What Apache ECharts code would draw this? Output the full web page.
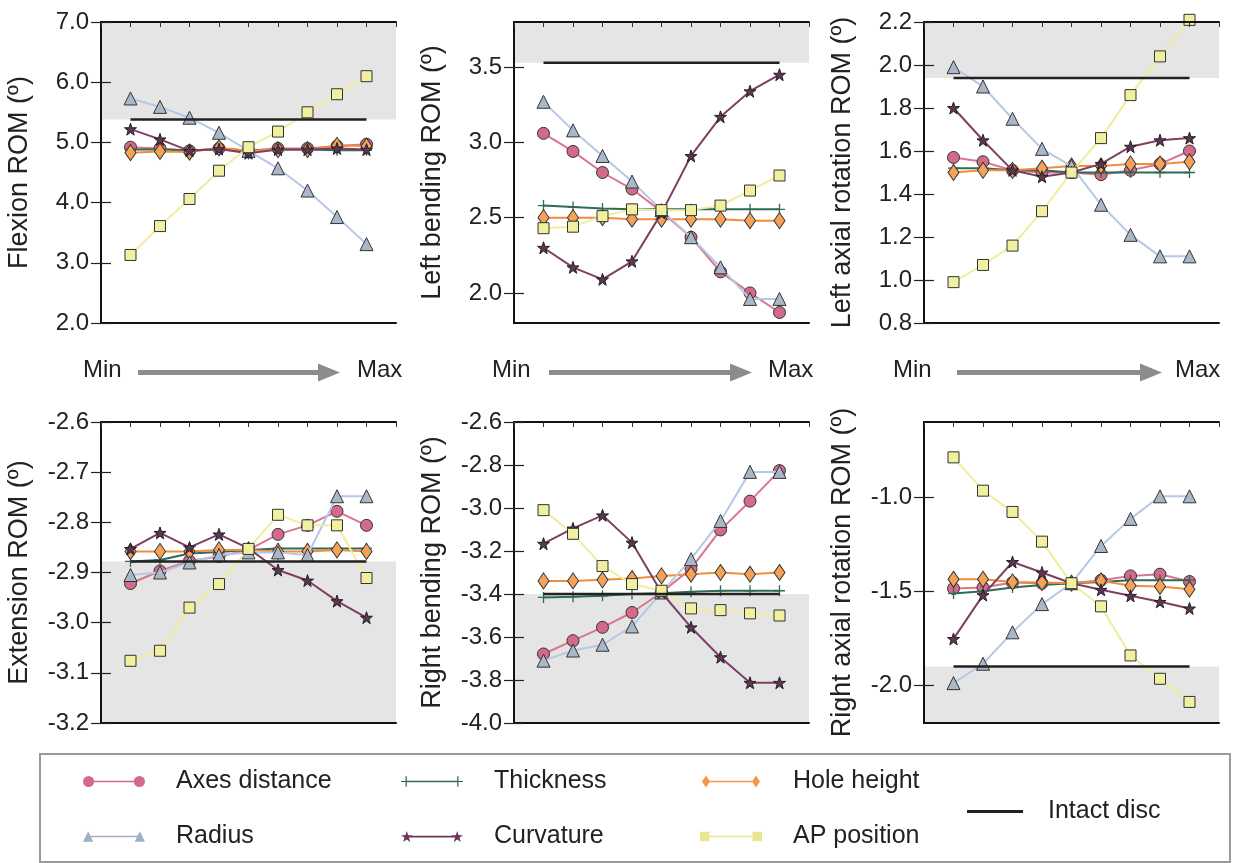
<!DOCTYPE html>
<html><head><meta charset="utf-8">
<script src="https://cdn.jsdelivr.net/npm/echarts@6/dist/echarts.min.js"></script>
<style>html,body{margin:0;padding:0;background:#fff}#c{width:1235px;height:863px}</style>
</head><body><div id="c"></div>
<script>
// ---------- data ----------
const levels = [1, 2, 3, 4, 5, 6, 7, 8, 9];
const seriesNames = ['Axes distance', 'Thickness', 'Hole height', 'Radius', 'Curvature', 'AP position'];
const panelTitles = ['Flexion ROM (º)', 'Left bending ROM (º)', 'Left axial rotation ROM (º)',
  'Extension ROM (º)', 'Right bending ROM (º)', 'Right axial rotation ROM (º)'];

// Flexion
const axes1 = [4.92, 4.90, 4.86, 4.90, 4.86, 4.90, 4.90, 4.94, 4.97];
const thick1 = [4.88, 4.88, 4.87, 4.88, 4.87, 4.88, 4.88, 4.87, 4.87];
const hole1 = [4.83, 4.85, 4.84, 4.91, 4.86, 4.88, 4.88, 4.95, 4.94];
const radius1 = [5.73, 5.59, 5.41, 5.16, 4.86, 4.57, 4.20, 3.76, 3.31];
const curv1 = [5.22, 5.05, 4.86, 4.89, 4.82, 4.88, 4.88, 4.90, 4.88];
const ap1 = [3.13, 3.61, 4.06, 4.53, 4.92, 5.18, 5.50, 5.80, 6.10];
// Left bending
const axes2 = [3.06, 2.94, 2.80, 2.69, 2.54, 2.37, 2.14, 2.00, 1.87];
const thick2 = [2.58, 2.57, 2.56, 2.555, 2.555, 2.555, 2.555, 2.555, 2.555];
const hole2 = [2.50, 2.50, 2.50, 2.49, 2.49, 2.49, 2.49, 2.48, 2.48];
const radius2 = [3.27, 3.08, 2.91, 2.74, 2.55, 2.37, 2.17, 1.96, 1.96];
const curv2 = [2.30, 2.17, 2.09, 2.21, 2.53, 2.91, 3.17, 3.34, 3.45];
const ap2 = [2.43, 2.44, 2.51, 2.555, 2.55, 2.55, 2.58, 2.68, 2.78];
// Left axial rotation
const axes3 = [1.57, 1.55, 1.51, 1.50, 1.50, 1.49, 1.51, 1.54, 1.60];
const thick3 = [1.52, 1.52, 1.51, 1.51, 1.50, 1.50, 1.50, 1.50, 1.50];
const hole3 = [1.50, 1.51, 1.51, 1.52, 1.53, 1.53, 1.54, 1.54, 1.55];
const radius3 = [1.99, 1.90, 1.75, 1.61, 1.53, 1.35, 1.21, 1.11, 1.11];
const curv3 = [1.80, 1.65, 1.51, 1.48, 1.50, 1.54, 1.62, 1.65, 1.66];
const ap3 = [0.99, 1.07, 1.16, 1.32, 1.50, 1.66, 1.86, 2.04, 2.21];
// Extension
const axes4 = [-2.922, -2.897, -2.877, -2.868, -2.855, -2.824, -2.806, -2.778, -2.806];
const thick4 = [-2.878, -2.875, -2.862, -2.859, -2.855, -2.852, -2.852, -2.852, -2.852];
const hole4 = [-2.858, -2.858, -2.858, -2.855, -2.855, -2.858, -2.858, -2.855, -2.858];
const radius4 = [-2.905, -2.900, -2.880, -2.865, -2.860, -2.860, -2.865, -2.748, -2.748];
const curv4 = [-2.853, -2.821, -2.850, -2.824, -2.852, -2.895, -2.916, -2.957, -2.990];
const ap4 = [-3.076, -3.056, -2.970, -2.923, -2.853, -2.785, -2.806, -2.806, -2.911];
// Right bending
const axes5 = [-3.679, -3.617, -3.555, -3.486, -3.393, -3.282, -3.102, -2.968, -2.826];
const thick5 = [-3.416, -3.413, -3.408, -3.400, -3.396, -3.390, -3.385, -3.385, -3.385];
const hole5 = [-3.339, -3.339, -3.334, -3.328, -3.316, -3.308, -3.300, -3.308, -3.300];
const radius5 = [-3.710, -3.663, -3.636, -3.551, -3.393, -3.238, -3.060, -2.832, -2.832];
const curv5 = [-3.166, -3.095, -3.034, -3.161, -3.393, -3.555, -3.694, -3.813, -3.813];
const ap5 = [-3.010, -3.120, -3.270, -3.354, -3.385, -3.467, -3.475, -3.490, -3.500];
// Right axial rotation
const axes6 = [-1.485, -1.480, -1.453, -1.457, -1.457, -1.441, -1.418, -1.409, -1.448];
const thick6 = [-1.511, -1.500, -1.480, -1.466, -1.457, -1.450, -1.441, -1.441, -1.441];
const hole6 = [-1.436, -1.436, -1.450, -1.453, -1.457, -1.444, -1.471, -1.474, -1.489];
const radius6 = [-1.988, -1.885, -1.718, -1.568, -1.457, -1.259, -1.115, -0.995, -0.995];
const curv6 = [-1.753, -1.520, -1.344, -1.400, -1.457, -1.492, -1.524, -1.556, -1.591];
const ap6 = [-0.788, -0.965, -1.078, -1.236, -1.457, -1.580, -1.841, -1.965, -2.088];

const intactValues = [5.38, 3.53, 1.94, -2.878, -3.40, -1.90];
const yRanges = [[2, 7], [1.8, 3.8], [0.8, 2.2], [-3.2, -2.6], [-4.0, -2.6], [-2.2, -0.6]];
const yTicks = [
  [2, 3, 4, 5, 6, 7],
  [2.0, 2.5, 3.0, 3.5],
  [0.8, 1.0, 1.2, 1.4, 1.6, 1.8, 2.0, 2.2],
  [-3.2, -3.1, -3.0, -2.9, -2.8, -2.7, -2.6],
  [-4.0, -3.8, -3.6, -3.4, -3.2, -3.0, -2.8, -2.6],
  [-2.0, -1.5, -1.0]
];

const panelData = [
  [axes1, thick1, hole1, radius1, curv1, ap1],
  [axes2, thick2, hole2, radius2, curv2, ap2],
  [axes3, thick3, hole3, radius3, curv3, ap3],
  [axes4, thick4, hole4, radius4, curv4, ap4],
  [axes5, thick5, hole5, radius5, curv5, ap5],
  [axes6, thick6, hole6, radius6, curv6, ap6]
];

// ---------- styles ----------
const STAR = 'path://M50,0 L61.8,35.1 L97.6,34.5 L69.1,56.9 L79.4,90.5 L50,70 L20.6,90.5 L30.9,56.9 L2.4,34.5 L38.2,35.1 Z';
const PLUS = 'path://M0,44 L100,44 L100,56 L0,56 Z M44,0 L56,0 L56,100 L44,100 Z';
// legend icons: marker - line - marker (62 x 12 box)
const BAR = ' M6,5.2 L56,5.2 L56,6.8 L6,6.8 Z';
const ICONS = {
  'Axes distance': 'path://M0.5,6 A5.5,5.5 0 1,1 11.5,6 A5.5,5.5 0 1,1 0.5,6 Z M50.5,6 A5.5,5.5 0 1,1 61.5,6 A5.5,5.5 0 1,1 50.5,6 Z' + BAR,
  'Thickness': 'path://M1,5.4 L11,5.4 L11,6.6 L1,6.6 Z M5.4,1 L6.6,1 L6.6,11 L5.4,11 Z M51,5.4 L61,5.4 L61,6.6 L51,6.6 Z M55.4,1 L56.6,1 L56.6,11 L55.4,11 Z' + BAR,
  'Hole height': 'path://M6,0 L10,6 L6,12 L2,6 Z M56,0 L60,6 L56,12 L52,6 Z' + BAR,
  'Radius': 'path://M6,1 L11,11 L1,11 Z M56,1 L61,11 L51,11 Z' + BAR,
  'Curvature': 'path://M6,0.5 L7.4,4.6 L11.7,4.6 L8.2,7.2 L9.5,11.3 L6,8.8 L2.5,11.3 L3.8,7.2 L0.3,4.6 L4.6,4.6 Z M56,0.5 L57.4,4.6 L61.7,4.6 L58.2,7.2 L59.5,11.3 L56,8.8 L52.5,11.3 L53.8,7.2 L50.3,4.6 L54.6,4.6 Z' + BAR,
  'AP position': 'path://M1.5,1.5 L10.5,1.5 L10.5,10.5 L1.5,10.5 Z M51.5,1.5 L60.5,1.5 L60.5,10.5 L51.5,10.5 Z' + BAR
};
const styles = {
  'Axes distance': { symbol: 'circle', size: 12, fill: '#d46a8a', line: '#d8768f', border: '#333' },
  'Thickness': { symbol: PLUS, size: 11, fill: '#2f6b55', line: '#2f6b55', border: null },
  'Hole height': { symbol: 'diamond', size: [11, 16], fill: '#f3a25a', line: '#f28c3c', border: '#333' },
  'Radius': { symbol: 'triangle', size: 13, fill: '#a9b8c8', line: '#b6c8e6', border: '#333' },
  'Curvature': { symbol: STAR, size: 12, fill: '#5e3552', line: '#7d3f62', border: '#222' },
  'AP position': { symbol: 'rect', size: 11, fill: '#f0f0a0', line: '#efee9c', border: '#333' }
};
const legendFill = {
  'Axes distance': '#d46a8a', 'Thickness': '#2f6b55', 'Hole height': '#f0994a',
  'Radius': '#9fb0c4', 'Curvature': '#6b3658', 'AP position': '#e8e690'
};

const gridPos = [
  { left: 101, top: 22 }, { left: 514, top: 22 }, { left: 924, top: 22 },
  { left: 101, top: 422 }, { left: 514, top: 422 }, { left: 924, top: 422 }
];
const GW = 295, GH = 301;
const FONT = 'Liberation Sans, Arial, sans-serif';

const grid = [], xAxis = [], yAxis = [], series = [];
gridPos.forEach((g, p) => {
  grid.push({ left: g.left, top: g.top, width: GW, height: GH, show: true, backgroundColor: '#fff', borderWidth: 0 });
  const lineCfg = { show: true, lineStyle: { color: '#111', width: 2 } };
  xAxis.push({ gridIndex: p, type: 'value', min: 0, max: 10, position: 'bottom', z: 10,
    axisLine: lineCfg, axisTick: { show: false }, axisLabel: { show: false }, splitLine: { show: false } });
  xAxis.push({ gridIndex: p, type: 'value', min: 0, max: 10, interval: 1, position: 'top', z: 10,
    axisLine: lineCfg, axisTick: { show: true, inside: true, length: 5, lineStyle: { color: '#333' } },
    axisLabel: { show: false }, splitLine: { show: false } });
  const [mn, mx] = yRanges[p];
  yAxis.push({ gridIndex: p, type: 'value', min: mn, max: mx, position: 'left', z: 10,
    axisLine: lineCfg,
    axisTick: { show: true, inside: true, length: 10, customValues: yTicks[p], lineStyle: { color: '#222', width: 1.2 } },
    axisLabel: { show: true, customValues: yTicks[p], formatter: v => Number(v).toFixed(1),
      fontSize: 24, color: '#222', fontFamily: FONT, margin: 12, showMinLabel: true, showMaxLabel: true },
    splitLine: { show: false },
    name: panelTitles[p], nameLocation: 'middle', nameGap: 68,
    nameTextStyle: { fontSize: 27, color: '#222', fontFamily: FONT } });
  yAxis.push({ gridIndex: p, type: 'value', min: mn, max: mx, position: 'right', z: 10,
    axisLine: lineCfg,
    axisTick: { show: true, inside: true, length: 10, customValues: yTicks[p], lineStyle: { color: '#222', width: 1.2 } },
    axisLabel: { show: false }, splitLine: { show: false } });

  const intactArr = levels.map(() => intactValues[p]);
  const bandEdge = p < 3 ? mx : mn;
  series.push({ name: 'band', type: 'line', xAxisIndex: 2 * p, yAxisIndex: 2 * p, z: 1,
    data: levels.map((x, i) => [x, intactArr[i]]), symbol: 'none', lineStyle: { opacity: 0 },
    silent: true, animation: false,
    markArea: { silent: true, itemStyle: { color: '#e5e5e5' },
      data: [[{ yAxis: intactValues[p] }, { yAxis: bandEdge }]] } });

  seriesNames.forEach((nm, k) => {
    const st = styles[nm];
    series.push({ name: nm, type: 'line', xAxisIndex: 2 * p, yAxisIndex: 2 * p, z: 3 + k,
      data: levels.map((x, i) => [x, panelData[p][k][i]]),
      symbol: st.symbol, symbolSize: st.size, showAllSymbol: true, clip: false, animation: false,
      itemStyle: { color: st.fill, borderColor: st.border || st.fill, borderWidth: st.border ? 1 : 0, opacity: 1 },
      lineStyle: { color: st.line, width: 2 } });
  });
  series.push({ name: 'Intact disc', type: 'line', xAxisIndex: 2 * p, yAxisIndex: 2 * p, z: 9,
    data: levels.map((x, i) => [x, intactArr[i]]), symbol: 'none', animation: false,
    itemStyle: { color: '#222' }, lineStyle: { color: '#222', width: 2.5 } });
});

// ---------- annotations ----------
const graphic = [];
const arrowCols = [
  { min: 83, a0: 138, a1: 340, max: 357 },
  { min: 492, a0: 549, a1: 752, max: 768 },
  { min: 893, a0: 957, a1: 1162, max: 1175 }
];
const AY = 372.5;
arrowCols.forEach(c => {
  graphic.push({ type: 'text', left: c.min, top: AY - 14, style: { text: 'Min', fontSize: 24, fontFamily: FONT, fill: '#222' } });
  graphic.push({ type: 'text', left: c.max, top: AY - 14, style: { text: 'Max', fontSize: 24, fontFamily: FONT, fill: '#222' } });
  graphic.push({ type: 'rect', shape: { x: c.a0, y: AY - 2.5, width: c.a1 - c.a0 - 20, height: 5 }, style: { fill: '#8c8c8c' } });
  graphic.push({ type: 'polygon', shape: { points: [[c.a1 - 22, AY - 9], [c.a1, AY], [c.a1 - 22, AY + 9]] }, style: { fill: '#8c8c8c' } });
});
graphic.push({ type: 'rect', shape: { x: 40, y: 754, width: 1190, height: 108 }, style: { fill: 'none', stroke: '#9a9a9a', lineWidth: 2 }, z: 0 });

const legItem = nm => ({ name: nm, icon: ICONS[nm], itemStyle: { color: legendFill[nm], borderWidth: 0 } });
const legTxt = { fontSize: 25, color: '#222', fontFamily: FONT, padding: [0, 0, 0, 26] };
const legBase = { orient: 'vertical', itemGap: 30, itemWidth: 62, itemHeight: 12, selectedMode: false, textStyle: legTxt };
const legend = [
  Object.assign({}, legBase, { left: 78, top: 764, data: ['Axes distance', 'Radius'].map(legItem) }),
  Object.assign({}, legBase, { left: 396, top: 764, data: ['Thickness', 'Curvature'].map(legItem) }),
  Object.assign({}, legBase, { left: 695, top: 764, data: ['Hole height', 'AP position'].map(legItem) }),
  Object.assign({}, legBase, { left: 962, top: 794, itemWidth: 56, itemHeight: 3,
    textStyle: Object.assign({}, legTxt, { padding: [0, 0, 0, 20] }),
    data: [{ name: 'Intact disc', icon: 'rect', itemStyle: { color: '#222', borderWidth: 0 } }] })
];

const chart = echarts.init(document.getElementById('c'), null, { renderer: 'canvas' });
chart.setOption({ animation: false, backgroundColor: '#fff', textStyle: { fontFamily: FONT },
  grid, xAxis, yAxis, series, legend, graphic });
</script></body></html>
